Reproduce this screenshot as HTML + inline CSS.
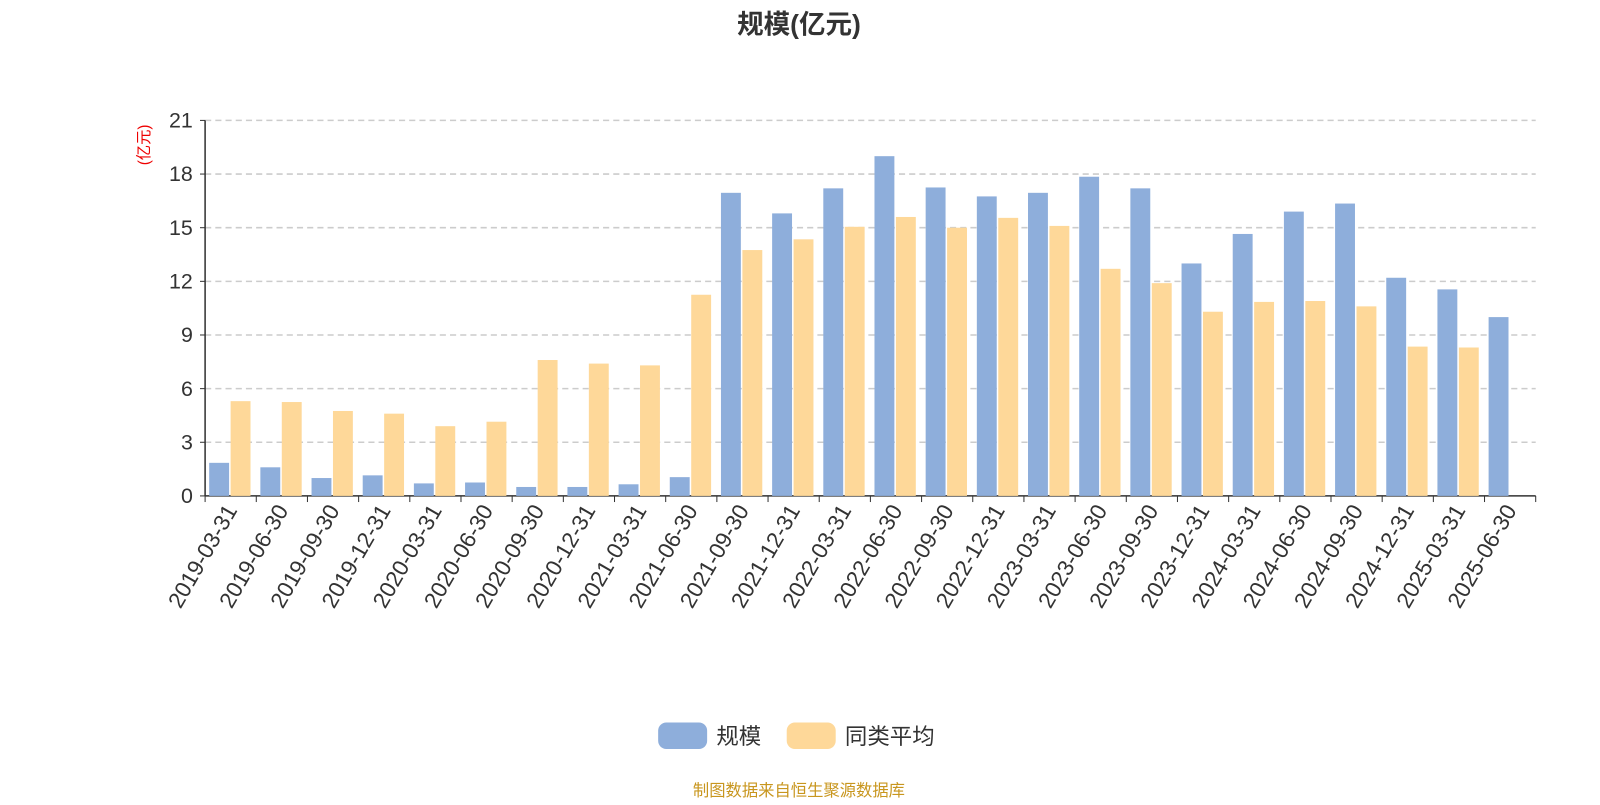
<!DOCTYPE html>
<html><head><meta charset="utf-8"><style>
body{margin:0;background:#fff;font-family:"Liberation Sans","Noto Sans CJK SC",sans-serif}
</style></head><body>
<svg width="1600" height="800" xmlns="http://www.w3.org/2000/svg" font-family="Liberation Sans, Noto Sans CJK SC, sans-serif"><g id="c" transform="scale(1.0204)"></g></svg>
<script>
const categories=["2019-03-31","2019-06-30","2019-09-30","2019-12-31","2020-03-31","2020-06-30","2020-09-30","2020-12-31","2021-03-31","2021-06-30","2021-09-30","2021-12-31","2022-03-31","2022-06-30","2022-09-30","2022-12-31","2023-03-31","2023-06-30","2023-09-30","2023-12-31","2024-03-31","2024-06-30","2024-09-30","2024-12-31","2025-03-31","2025-06-30"];
const scaleValues=[1.85,1.6,1.0,1.15,0.7,0.75,0.5,0.5,0.65,1.05,16.95,15.8,17.2,19.0,17.25,16.75,16.95,17.85,17.2,13.0,14.65,15.9,16.35,12.2,11.55,10.0];
const avgValues=[5.3,5.25,4.75,4.6,3.9,4.15,7.6,7.4,7.3,11.25,13.75,14.35,15.05,15.6,15.0,15.55,15.1,12.7,11.9,10.3,10.85,10.9,10.6,8.35,8.3,null];
const yTicks=[0,3,6,9,12,15,18,21];
const svg=document.getElementById('c');const NS="http://www.w3.org/2000/svg";
function mk(t,a,p,txt){const e=document.createElementNS(NS,t);for(const k in a)e.setAttribute(k,a[k]);if(txt!=null)e.textContent=txt;(p||svg).appendChild(e);return e;}
const x0=201,x1=1505,yb=486,yt=118,ymax=21;
const y=v=>yb-(v/ymax)*(yb-yt);
const band=(x1-x0)/categories.length;
const t=mk('text',{x:783,y:33,'text-anchor':'middle','font-size':26,'font-weight':'bold',fill:'#333'},null,'规模(亿元)');

const yl=mk('text',{transform:'translate(146,142) rotate(-90)','text-anchor':'middle','font-size':15,fill:'#e00'},null,'(亿元)');

yTicks.forEach(v=>{
  if(v>0){const g=mk('line',{x1:x0,x2:x1,y1:y(v),y2:y(v),stroke:'#ccc','stroke-dasharray':'6,4','stroke-width':1.5});}
  mk('line',{x1:x0-5,x2:x0,y1:y(v),y2:y(v),stroke:'#333'});
  const l=mk('text',{x:x0-12,y:y(v)+7,'text-anchor':'end','font-size':21,fill:'#333'},null,v);
  
});
mk('line',{x1:x0,x2:x0,y1:yt,y2:yb,stroke:'#333','stroke-width':1.5});
mk('line',{x1:x0,x2:x1,y1:yb,y2:yb,stroke:'#333','stroke-width':1.5});
categories.forEach((c,i)=>{
  const bx=x0+i*band;
  mk('line',{x1:bx,x2:bx,y1:yb,y2:yb+6,stroke:'#333'});
  const b=mk('rect',{x:bx+4,y:y(scaleValues[i]),width:19.5,height:yb-y(scaleValues[i]),fill:'#8eaedb'});
  
  if(avgValues[i]!=null){const a=mk('rect',{x:bx+25,y:y(avgValues[i]),width:19.5,height:yb-y(avgValues[i]),fill:'#fed899'});
  }
  const cx=bx+band/2;
  const l=mk('text',{transform:`translate(${cx+7},${yb+14}) rotate(-60)`,'text-anchor':'end','font-size':22,fill:'#333'},null,c);
  
});
mk('line',{x1:x1,x2:x1,y1:yb,y2:yb+6,stroke:'#333'});
const lg1=mk('rect',{x:645,y:708,width:48,height:26,rx:8,fill:'#8eaedb'});
const lt1=mk('text',{x:702,y:729,'font-size':22,fill:'#333'},null,'规模');
const lg2=mk('rect',{x:771,y:708,width:48,height:26,rx:8,fill:'#fed899'});
const lt2=mk('text',{x:828,y:729,'font-size':22,fill:'#333'},null,'同类平均');
const s=mk('text',{x:783,y:780,'text-anchor':'middle','font-size':16,fill:'#c8961e'},null,'制图数据来自恒生聚源数据库');

</script>
</body></html>
